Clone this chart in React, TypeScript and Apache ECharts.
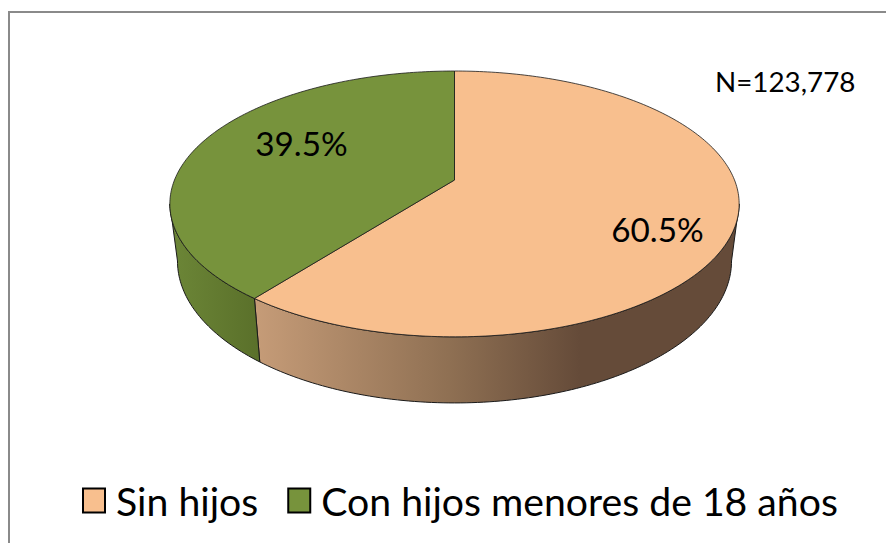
import React, { useEffect, useRef } from "react";
import * as echarts from "echarts";

const CATEGORIES = ["Sin hijos", "Con hijos menores de 18 años"];
const VALUES = [60.5, 39.5];
const COLORS = ["#F8BF8E", "#77933C"];
const NOTE = "N=123,778";

const FONT = "Lato";
const LABEL_ANCHORS = [[657.5, 229], [301.5, 143]];

// Perspective view of the pie's top and bottom discs, fitted to the picture.
const TILT = -0.18;
const CX = 454.5;
const TOP_FACE = { ax: 280, ay: 96.2, by: 180 };
const BOTTOM_FACE = { ax: 272.5, ay: 95, by: 235.4 };
const RIM_LEFT_FROM = (Math.acos(TILT) * 180) / Math.PI;

type Face = { ax: number; ay: number; by: number };

function project(face: Face, deg: number, r = 1): number[] {
  const rad = (deg * Math.PI) / 180;
  const u = Math.sin(rad) * r;
  const v = -Math.cos(rad) * r;
  const w = 1 + TILT * v;
  return [CX + (face.ax * u) / w, (face.ay * v + face.by) / w];
}

function arc(face: Face, from: number, to: number): number[][] {
  const pts: number[][] = [];
  const n = Math.max(2, Math.ceil(Math.abs(to - from)));
  for (let i = 0; i <= n; i++) pts.push(project(face, from + ((to - from) * i) / n));
  return pts;
}

const SIDE_FILLS = [
  new echarts.graphic.LinearGradient(
    254, 0, 740, 0,
    [
      { offset: 0, color: "#C69C78" },
      { offset: 0.4, color: "#8F7053" },
      { offset: 0.67, color: "#654B39" },
      { offset: 1, color: "#654B39" },
    ],
    true
  ),
  new echarts.graphic.LinearGradient(
    172, 0, 259, 0,
    [
      { offset: 0, color: "#6C8637" },
      { offset: 1, color: "#5A702A" },
    ],
    true
  ),
];

function makeRenderItem(index: number) {
  return (_params: any, api: any) => {
    const before = VALUES.slice(0, index).reduce((a, b) => a + b, 0);
    const total = VALUES.reduce((a, b) => a + b, 0);
    const from = (before / total) * 360;
    const to = from + (api.value(0) / total) * 360;
    const children: any[] = [];

    const sideFrom = Math.max(from, RIM_LEFT_FROM);
    const sideTo = Math.min(to, 360 - RIM_LEFT_FROM);
    if (sideTo > sideFrom) {
      const points = [
        ...arc(TOP_FACE, sideFrom, sideTo),
        ...arc(BOTTOM_FACE, sideFrom, sideTo).reverse(),
      ];
      children.push({
        type: "polygon",
        shape: { points },
        style: { fill: SIDE_FILLS[index], stroke: "#1a1a1a", lineWidth: 1 },
      });
    }
    children.push({
      type: "polygon",
      shape: { points: [project(TOP_FACE, 0, 0), ...arc(TOP_FACE, from, to)] },
      style: { fill: COLORS[index], stroke: "#1a1a1a", lineWidth: 0.8 },
    });
    children.push({
      type: "text",
      style: {
        x: LABEL_ANCHORS[index][0],
        y: LABEL_ANCHORS[index][1],
        text: api.value(0).toFixed(1) + "%",
        fill: "#000",
        fontFamily: FONT,
        fontSize: 33.3,
        align: "center",
        verticalAlign: "middle",
      },
    });
    return { type: "group", children };
  };
}

export default function App() {
  const ref = useRef<HTMLDivElement>(null);
  useEffect(() => {
    const chart = echarts.init(ref.current!, null, { renderer: "svg" });
    chart.setOption({
      animation: false,
      backgroundColor: "#fff",
      legend: {
        data: CATEGORIES,
        left: 82,
        top: 481,
        padding: 0,
        itemWidth: 22,
        itemHeight: 24,
        itemGap: 29,
        selectedMode: false,
        icon: "rect",
        itemStyle: { borderColor: "#000", borderWidth: 2 },
        textStyle: { fontFamily: FONT, fontSize: 39.2, color: "#000", padding: [0, 0, 0, 6] },
      },
      graphic: [
        { type: "line", shape: { x1: 9, y1: 12, x2: 886, y2: 12 }, style: { stroke: "#8a8a8a", lineWidth: 2 } },
        { type: "line", shape: { x1: 9, y1: 11, x2: 9, y2: 543 }, style: { stroke: "#8a8a8a", lineWidth: 2 } },
        {
          type: "text",
          x: 715,
          y: 81,
          style: { text: NOTE, fill: "#000", fontFamily: FONT, fontSize: 27.8, verticalAlign: "middle" },
        },
      ],
      series: CATEGORIES.map((name, i) => ({
        type: "custom",
        name,
        coordinateSystem: "none",
        itemStyle: { color: COLORS[i] },
        data: [[VALUES[i]]],
        renderItem: makeRenderItem(i),
      })),
    });
    return () => chart.dispose();
  }, []);
  return <div ref={ref} style={{ position: "fixed", left: 0, top: 0, width: 886, height: 543 }} />;
}
